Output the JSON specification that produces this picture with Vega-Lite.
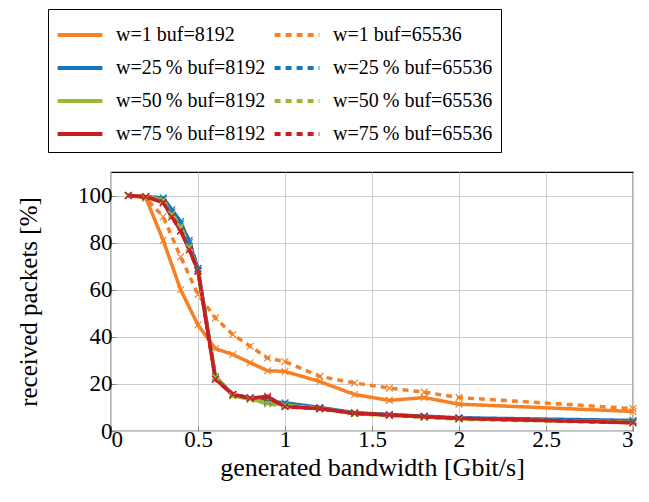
{
  "$schema": "https://vega.github.io/schema/vega-lite/v6.json",
  "width": 522,
  "height": 259,
  "autosize": "none",
  "padding": {"left": 111, "top": 172, "right": 16, "bottom": 71},
  "background": "white",
  "config": {
    "font": "Liberation Serif",
    "view": {"stroke": "black", "strokeWidth": 1.2},
    "axis": {
      "domain": false,
      "grid": true,
      "gridColor": "#cccccc",
      "gridWidth": 1,
      "tickColor": "#888888",
      "tickSize": -5,
      "labelFontSize": 23,
      "labelColor": "black",
      "titleFontWeight": "normal",
      "titleColor": "black"
    }
  },
  "datasets": {
    "d": [
      {"s": "w=1 buf=8192", "x": 0.1, "y": 100}, {"s": "w=1 buf=8192", "x": 0.2, "y": 99}, {"s": "w=1 buf=8192", "x": 0.3, "y": 81}, {"s": "w=1 buf=8192", "x": 0.4, "y": 60}, {"s": "w=1 buf=8192", "x": 0.5, "y": 45}, {"s": "w=1 buf=8192", "x": 0.6, "y": 35}, {"s": "w=1 buf=8192", "x": 0.7, "y": 32.5}, {"s": "w=1 buf=8192", "x": 0.8, "y": 29}, {"s": "w=1 buf=8192", "x": 0.9, "y": 25.6}, {"s": "w=1 buf=8192", "x": 1.0, "y": 25.3}, {"s": "w=1 buf=8192", "x": 1.2, "y": 21}, {"s": "w=1 buf=8192", "x": 1.4, "y": 15.5}, {"s": "w=1 buf=8192", "x": 1.6, "y": 13}, {"s": "w=1 buf=8192", "x": 1.8, "y": 14.2}, {"s": "w=1 buf=8192", "x": 2.0, "y": 11.4}, {"s": "w=1 buf=8192", "x": 3.0, "y": 8.3},
      {"s": "w=1 buf=65536", "x": 0.1, "y": 100}, {"s": "w=1 buf=65536", "x": 0.2, "y": 99}, {"s": "w=1 buf=65536", "x": 0.3, "y": 91}, {"s": "w=1 buf=65536", "x": 0.4, "y": 74}, {"s": "w=1 buf=65536", "x": 0.5, "y": 58}, {"s": "w=1 buf=65536", "x": 0.6, "y": 48}, {"s": "w=1 buf=65536", "x": 0.7, "y": 41}, {"s": "w=1 buf=65536", "x": 0.8, "y": 36}, {"s": "w=1 buf=65536", "x": 0.9, "y": 31}, {"s": "w=1 buf=65536", "x": 1.0, "y": 29.5}, {"s": "w=1 buf=65536", "x": 1.2, "y": 23.2}, {"s": "w=1 buf=65536", "x": 1.4, "y": 20.4}, {"s": "w=1 buf=65536", "x": 1.6, "y": 18.2}, {"s": "w=1 buf=65536", "x": 1.8, "y": 16.5}, {"s": "w=1 buf=65536", "x": 2.0, "y": 14.2}, {"s": "w=1 buf=65536", "x": 3.0, "y": 9.5},
      {"s": "w=25\u2009% buf=8192", "x": 0.1, "y": 100}, {"s": "w=25\u2009% buf=8192", "x": 0.2, "y": 99.5}, {"s": "w=25\u2009% buf=8192", "x": 0.3, "y": 99}, {"s": "w=25\u2009% buf=8192", "x": 0.35, "y": 94}, {"s": "w=25\u2009% buf=8192", "x": 0.4, "y": 89}, {"s": "w=25\u2009% buf=8192", "x": 0.45, "y": 80}, {"s": "w=25\u2009% buf=8192", "x": 0.5, "y": 69}, {"s": "w=25\u2009% buf=8192", "x": 0.6, "y": 23}, {"s": "w=25\u2009% buf=8192", "x": 0.7, "y": 15.5}, {"s": "w=25\u2009% buf=8192", "x": 0.8, "y": 14}, {"s": "w=25\u2009% buf=8192", "x": 0.9, "y": 12.5}, {"s": "w=25\u2009% buf=8192", "x": 1.0, "y": 12}, {"s": "w=25\u2009% buf=8192", "x": 1.2, "y": 10}, {"s": "w=25\u2009% buf=8192", "x": 1.4, "y": 7.8}, {"s": "w=25\u2009% buf=8192", "x": 1.6, "y": 7}, {"s": "w=25\u2009% buf=8192", "x": 1.8, "y": 6.3}, {"s": "w=25\u2009% buf=8192", "x": 2.0, "y": 5.6}, {"s": "w=25\u2009% buf=8192", "x": 3.0, "y": 4.5},
      {"s": "w=25\u2009% buf=65536", "x": 0.1, "y": 100}, {"s": "w=25\u2009% buf=65536", "x": 0.2, "y": 99.5}, {"s": "w=25\u2009% buf=65536", "x": 0.3, "y": 98.5}, {"s": "w=25\u2009% buf=65536", "x": 0.35, "y": 93}, {"s": "w=25\u2009% buf=65536", "x": 0.4, "y": 88}, {"s": "w=25\u2009% buf=65536", "x": 0.45, "y": 81}, {"s": "w=25\u2009% buf=65536", "x": 0.5, "y": 69}, {"s": "w=25\u2009% buf=65536", "x": 0.6, "y": 23}, {"s": "w=25\u2009% buf=65536", "x": 0.7, "y": 15.5}, {"s": "w=25\u2009% buf=65536", "x": 0.8, "y": 14}, {"s": "w=25\u2009% buf=65536", "x": 0.9, "y": 12}, {"s": "w=25\u2009% buf=65536", "x": 1.0, "y": 11.5}, {"s": "w=25\u2009% buf=65536", "x": 1.2, "y": 9.8}, {"s": "w=25\u2009% buf=65536", "x": 1.4, "y": 7.5}, {"s": "w=25\u2009% buf=65536", "x": 1.6, "y": 6.8}, {"s": "w=25\u2009% buf=65536", "x": 1.8, "y": 6.1}, {"s": "w=25\u2009% buf=65536", "x": 2.0, "y": 5.4}, {"s": "w=25\u2009% buf=65536", "x": 3.0, "y": 4.2},
      {"s": "w=50\u2009% buf=8192", "x": 0.1, "y": 100}, {"s": "w=50\u2009% buf=8192", "x": 0.2, "y": 99.5}, {"s": "w=50\u2009% buf=8192", "x": 0.3, "y": 98}, {"s": "w=50\u2009% buf=8192", "x": 0.35, "y": 92}, {"s": "w=50\u2009% buf=8192", "x": 0.4, "y": 87}, {"s": "w=50\u2009% buf=8192", "x": 0.45, "y": 78}, {"s": "w=50\u2009% buf=8192", "x": 0.5, "y": 68}, {"s": "w=50\u2009% buf=8192", "x": 0.6, "y": 23}, {"s": "w=50\u2009% buf=8192", "x": 0.7, "y": 15}, {"s": "w=50\u2009% buf=8192", "x": 0.8, "y": 13.5}, {"s": "w=50\u2009% buf=8192", "x": 0.9, "y": 12}, {"s": "w=50\u2009% buf=8192", "x": 1.0, "y": 11}, {"s": "w=50\u2009% buf=8192", "x": 1.2, "y": 9.6}, {"s": "w=50\u2009% buf=8192", "x": 1.4, "y": 7.5}, {"s": "w=50\u2009% buf=8192", "x": 1.6, "y": 6.7}, {"s": "w=50\u2009% buf=8192", "x": 1.8, "y": 6.0}, {"s": "w=50\u2009% buf=8192", "x": 2.0, "y": 5.2}, {"s": "w=50\u2009% buf=8192", "x": 3.0, "y": 3.8},
      {"s": "w=50\u2009% buf=65536", "x": 0.1, "y": 100}, {"s": "w=50\u2009% buf=65536", "x": 0.2, "y": 99.5}, {"s": "w=50\u2009% buf=65536", "x": 0.3, "y": 98}, {"s": "w=50\u2009% buf=65536", "x": 0.35, "y": 92}, {"s": "w=50\u2009% buf=65536", "x": 0.4, "y": 86.5}, {"s": "w=50\u2009% buf=65536", "x": 0.45, "y": 78}, {"s": "w=50\u2009% buf=65536", "x": 0.5, "y": 68}, {"s": "w=50\u2009% buf=65536", "x": 0.6, "y": 22.5}, {"s": "w=50\u2009% buf=65536", "x": 0.7, "y": 15}, {"s": "w=50\u2009% buf=65536", "x": 0.8, "y": 13.5}, {"s": "w=50\u2009% buf=65536", "x": 0.9, "y": 11.5}, {"s": "w=50\u2009% buf=65536", "x": 1.0, "y": 10.5}, {"s": "w=50\u2009% buf=65536", "x": 1.2, "y": 9.4}, {"s": "w=50\u2009% buf=65536", "x": 1.4, "y": 7.3}, {"s": "w=50\u2009% buf=65536", "x": 1.6, "y": 6.5}, {"s": "w=50\u2009% buf=65536", "x": 1.8, "y": 5.8}, {"s": "w=50\u2009% buf=65536", "x": 2.0, "y": 5.0}, {"s": "w=50\u2009% buf=65536", "x": 3.0, "y": 3.5},
      {"s": "w=75\u2009% buf=8192", "x": 0.1, "y": 100}, {"s": "w=75\u2009% buf=8192", "x": 0.2, "y": 99.5}, {"s": "w=75\u2009% buf=8192", "x": 0.3, "y": 97}, {"s": "w=75\u2009% buf=8192", "x": 0.35, "y": 91}, {"s": "w=75\u2009% buf=8192", "x": 0.4, "y": 85}, {"s": "w=75\u2009% buf=8192", "x": 0.45, "y": 77}, {"s": "w=75\u2009% buf=8192", "x": 0.5, "y": 68}, {"s": "w=75\u2009% buf=8192", "x": 0.6, "y": 22}, {"s": "w=75\u2009% buf=8192", "x": 0.7, "y": 15.5}, {"s": "w=75\u2009% buf=8192", "x": 0.8, "y": 14}, {"s": "w=75\u2009% buf=8192", "x": 0.9, "y": 14.7}, {"s": "w=75\u2009% buf=8192", "x": 1.0, "y": 10.3}, {"s": "w=75\u2009% buf=8192", "x": 1.2, "y": 9.5}, {"s": "w=75\u2009% buf=8192", "x": 1.4, "y": 7.5}, {"s": "w=75\u2009% buf=8192", "x": 1.6, "y": 6.8}, {"s": "w=75\u2009% buf=8192", "x": 1.8, "y": 6.1}, {"s": "w=75\u2009% buf=8192", "x": 2.0, "y": 5.4}, {"s": "w=75\u2009% buf=8192", "x": 3.0, "y": 3.5},
      {"s": "w=75\u2009% buf=65536", "x": 0.1, "y": 100}, {"s": "w=75\u2009% buf=65536", "x": 0.2, "y": 99.5}, {"s": "w=75\u2009% buf=65536", "x": 0.3, "y": 97}, {"s": "w=75\u2009% buf=65536", "x": 0.35, "y": 91}, {"s": "w=75\u2009% buf=65536", "x": 0.4, "y": 85}, {"s": "w=75\u2009% buf=65536", "x": 0.45, "y": 77}, {"s": "w=75\u2009% buf=65536", "x": 0.5, "y": 68}, {"s": "w=75\u2009% buf=65536", "x": 0.6, "y": 22}, {"s": "w=75\u2009% buf=65536", "x": 0.7, "y": 15.5}, {"s": "w=75\u2009% buf=65536", "x": 0.8, "y": 14}, {"s": "w=75\u2009% buf=65536", "x": 0.9, "y": 14}, {"s": "w=75\u2009% buf=65536", "x": 1.0, "y": 10.5}, {"s": "w=75\u2009% buf=65536", "x": 1.2, "y": 9.5}, {"s": "w=75\u2009% buf=65536", "x": 1.4, "y": 7.5}, {"s": "w=75\u2009% buf=65536", "x": 1.6, "y": 6.8}, {"s": "w=75\u2009% buf=65536", "x": 1.8, "y": 6.1}, {"s": "w=75\u2009% buf=65536", "x": 2.0, "y": 5.4}, {"s": "w=75\u2009% buf=65536", "x": 3.0, "y": 3.6}
    ]
  },
  "data": {"name": "d"},
  "encoding": {
    "x": {"field": "x", "type": "quantitative", "scale": {"domain": [0, 3], "nice": false}, "axis": {"values": [0, 0.5, 1, 1.5, 2, 2.5, 3], "format": "~g", "title": "generated bandwidth [Gbit/s]", "titleFontSize": 26, "labelPadding": 2, "titlePadding": 3}},
    "y": {"field": "y", "type": "quantitative", "scale": {"domain": [0, 110], "nice": false}, "axis": {"values": [0, 20, 40, 60, 80, 100], "title": "received packets [%]", "titleFontSize": 25, "labelPadding": 4, "titlePadding": 36}}
  },
  "layer": [
    {
      "mark": {"type": "line", "strokeWidth": 3.5, "clip": false},
      "encoding": {
        "color": {"field": "s", "type": "nominal",
          "scale": {"domain": ["w=1 buf=8192", "w=1 buf=65536", "w=25\u2009% buf=8192", "w=25\u2009% buf=65536", "w=50\u2009% buf=8192", "w=50\u2009% buf=65536", "w=75\u2009% buf=8192", "w=75\u2009% buf=65536"],
                    "range": ["#f58025", "#f58025", "#1677c0", "#1677c0", "#99b932", "#99b932", "#c81e23", "#c81e23"]},
          "legend": {"orient": "none", "legendX": -63, "legendY": -163, "columns": 2, "direction": "horizontal", "title": null, "strokeColor": "black", "fillColor": "white", "padding": 8, "symbolOffset": 6, "labelFontSize": 20, "labelColor": "black", "labelLimit": 400, "symbolType": "M-1.4,0H1.4", "symbolSize": 1024, "symbolStrokeWidth": 4, "rowPadding": 5, "columnPadding": 0, "labelOffset": 18}},
        "strokeDash": {"field": "s", "type": "nominal",
          "scale": {"domain": ["w=1 buf=8192", "w=1 buf=65536", "w=25\u2009% buf=8192", "w=25\u2009% buf=65536", "w=50\u2009% buf=8192", "w=50\u2009% buf=65536", "w=75\u2009% buf=8192", "w=75\u2009% buf=65536"],
                    "range": [[1, 0], [6, 5], [1, 0], [6, 5], [1, 0], [6, 5], [1, 0], [6, 5]]},
          "legend": {"orient": "none", "legendX": -63, "legendY": -163, "columns": 2, "direction": "horizontal", "title": null, "strokeColor": "black", "fillColor": "white", "padding": 8, "symbolOffset": 6, "labelFontSize": 20, "labelColor": "black", "labelLimit": 400, "symbolType": "M-1.4,0H1.4", "symbolSize": 1024, "symbolStrokeWidth": 4, "rowPadding": 5, "columnPadding": 0, "labelOffset": 18}},
        "order": {"field": "x", "type": "quantitative"}
      }
    },
    {
      "mark": {"type": "point", "shape": "M-1,-1L1,1M1,-1L-1,1", "filled": false, "strokeWidth": 1.2, "size": 45, "opacity": 1, "clip": false},
      "encoding": {
        "color": {"field": "s", "type": "nominal", "legend": null}
      }
    }
  ]
}
